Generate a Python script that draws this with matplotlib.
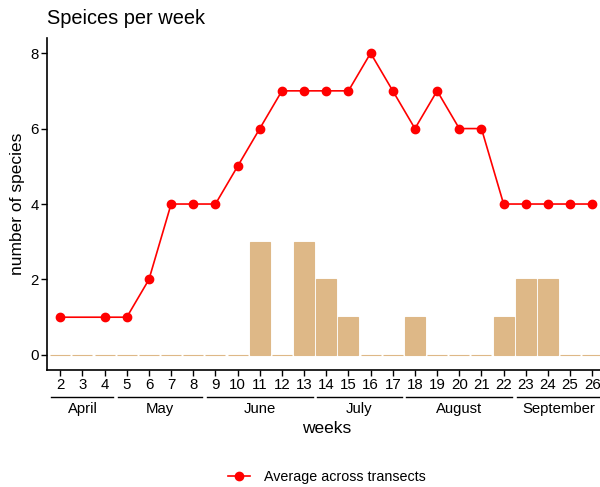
import numpy as np
import matplotlib.pyplot as plt
import matplotlib.transforms as mtransforms
from matplotlib.lines import Line2D

plt.rcParams['font.family'] = ['Liberation Sans', 'DejaVu Sans']

weeks = list(range(2, 27))
bar_counts = [0, 0, 0, 0, 0, 0, 0, 0, 0, 3, 0, 3, 2, 1, 0, 0, 1, 0, 0, 0, 1, 2, 2, 0, 0]

line_weeks = [2, 4, 5, 6, 7, 8, 9, 10, 11, 12, 13, 14, 15, 16, 17, 18, 19, 20, 21, 22, 23, 24, 25, 26]
line_avg = [1, 1, 1, 2, 4, 4, 4, 5, 6, 7, 7, 7, 7, 8, 7, 6, 7, 6, 6, 4, 4, 4, 4, 4]

months = ["April", "May", "June", "July", "August", "September"]
month_start = [2, 5, 9, 14, 18, 23]
month_end = [4, 8, 13, 17, 22, 26]

fig = plt.figure(figsize=(6, 4.87), dpi=100)
ax = fig.add_axes([0.0783, 0.2402, 0.931, 0.6817])

ax.bar(weeks, bar_counts, width=0.9, color='#DEB887', edgecolor='#DEB887', linewidth=0.8, zorder=2)
ax.plot(line_weeks, line_avg, color='red', linewidth=1.2, marker='o', markersize=6, zorder=3)

ax.set_xlim(1.4, 26.6)
ax.set_ylim(-0.4, 8.4)
ax.set_xticks(weeks)
ax.set_xticklabels([str(w) for w in weeks])
ax.set_yticks([0, 2, 4, 6, 8])
ax.tick_params(axis='both', labelsize=10.8, length=4, width=1.0, colors='black', pad=2)

for s in ['top', 'right']:
    ax.spines[s].set_visible(False)
for s in ['left', 'bottom']:
    ax.spines[s].set_linewidth(1.2)

# month brackets under the week numbers
trans = mtransforms.blended_transform_factory(ax.transData, ax.transAxes)
for name, a, b in zip(months, month_start, month_end):
    ax.plot([a - 0.4, b + 0.4], [-0.0813, -0.0813], color='black', linewidth=1.0,
            transform=trans, clip_on=False)
    ax.text((a + b) / 2, -0.117, name, transform=trans, ha='center', va='center', fontsize=10.7)

ax.text(0.5, -0.175, "weeks", transform=ax.transAxes, ha='center', va='center', fontsize=12.5)
ax.set_ylabel("number of species", fontsize=12.5, labelpad=4)
fig.text(0.078, 0.962, "Speices per week", ha='left', va='center', fontsize=14.4)

handle = Line2D([], [], color='red', linewidth=1.2, marker='o', markersize=6)
fig.legend([handle], ["Average across transects"], loc='center', bbox_to_anchor=(0.545, 0.02),
           frameon=False, fontsize=10.3, handlelength=1.5, handletextpad=1.0)

fig.savefig("out.png", dpi=100)
